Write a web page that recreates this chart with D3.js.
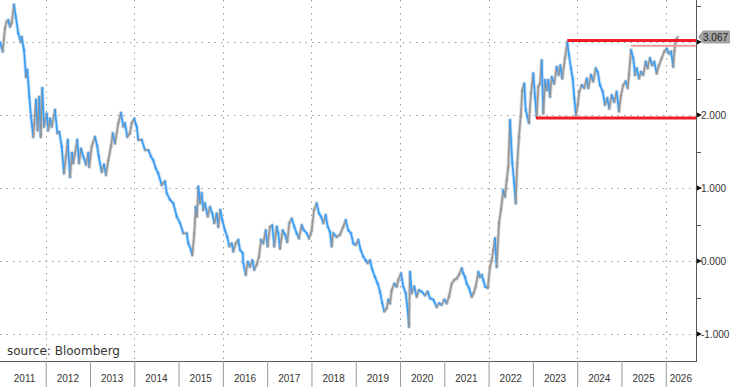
<!DOCTYPE html>
<html>
<head>
<meta charset="utf-8">
<script src="https://cdn.jsdelivr.net/npm/d3@7"></script>
<style>
  html, body { margin: 0; padding: 0; background: #fff; }
  svg { display: block; }
</style>
</head>
<body>
<svg id="chart" width="731" height="387"></svg>
<script>
// ---- data (decimal year, yield %) ----
const dates = [
  2010.968,2011.029,2011.081,2011.119,2011.156,2011.194,2011.232,2011.284,2011.323,2011.381,
  2011.436,2011.458,2011.510,2011.555,2011.585,2011.630,2011.668,2011.720,2011.743,2011.781,
  2011.819,2011.855,2011.887,2011.923,2011.962,2012.023,2012.059,2012.097,2012.135,2012.210,
  2012.262,2012.307,2012.361,2012.413,2012.458,2012.497,2012.549,2012.594,2012.623,2012.713,
  2012.752,2012.797,2012.849,2012.910,2012.962,2012.984,2013.039,2013.113,2013.165,2013.197,
  2013.264,2013.316,2013.361,2013.413,2013.474,2013.513,2013.565,2013.639,2013.700,2013.752,
  2013.790,2013.842,2013.903,2013.942,2014.000,2014.055,2014.091,2014.168,2014.242,2014.317,
  2014.378,2014.429,2014.484,2014.542,2014.619,2014.694,2014.732,2014.806,2014.881,2014.958,
  2015.032,2015.107,2015.184,2015.220,2015.281,2015.310,2015.355,2015.387,2015.416,2015.445,
  2015.484,2015.522,2015.558,2015.597,2015.658,2015.710,2015.762,2015.807,2015.861,2015.897,
  2015.942,2015.987,2016.048,2016.100,2016.145,2016.200,2016.236,2016.290,2016.349,2016.387,
  2016.448,2016.462,2016.516,2016.562,2016.613,2016.665,2016.710,2016.764,2016.816,2016.861,
  2016.913,2016.967,2017.012,2017.064,2017.116,2017.161,2017.216,2017.252,2017.290,2017.351,
  2017.403,2017.455,2017.500,2017.554,2017.613,2017.667,2017.719,2017.780,2017.832,2017.893,
  2017.945,2018.006,2018.058,2018.119,2018.171,2018.216,2018.268,2018.322,2018.367,2018.419,
  2018.457,2018.494,2018.570,2018.645,2018.719,2018.774,2018.832,2018.893,2018.945,2019.000,
  2019.058,2019.112,2019.171,2019.225,2019.270,2019.322,2019.374,2019.435,2019.496,2019.548,
  2019.600,2019.645,2019.699,2019.736,2019.774,2019.812,2019.871,2019.925,2019.961,2020.022,
  2020.074,2020.128,2020.173,2020.203,2020.225,2020.264,2020.322,2020.377,2020.429,2020.489,
  2020.564,2020.625,2020.677,2020.751,2020.828,2020.880,2020.941,2021.000,2021.054,2021.106,
  2021.167,2021.226,2021.280,2021.332,2021.393,2021.429,2021.468,2021.506,2021.558,2021.619,
  2021.664,2021.709,2021.768,2021.806,2021.844,2021.880,2021.919,2021.980,2022.032,2022.070,
  2022.106,2022.145,2022.183,2022.235,2022.280,2022.332,2022.371,2022.409,2022.445,2022.484,
  2022.506,2022.535,2022.580,2022.612,2022.648,2022.686,2022.725,2022.761,2022.806,2022.838,
  2022.874,2022.912,2022.957,2023.009,2023.048,2023.086,2023.123,2023.161,2023.199,2023.235,
  2023.274,2023.312,2023.348,2023.386,2023.425,2023.483,2023.537,2023.583,2023.619,2023.664,
  2023.725,2023.777,2023.815,2023.860,2023.899,2023.935,2023.973,2024.012,2024.048,2024.102,
  2024.161,2024.215,2024.251,2024.312,2024.364,2024.419,2024.463,2024.515,2024.576,2024.628,
  2024.680,2024.725,2024.779,2024.838,2024.892,2024.944,2024.990,2025.041,2025.095,2025.141,
  2025.170,2025.215,2025.267,2025.306,2025.344,2025.396,2025.441,2025.493,2025.547,2025.592,
  2025.644,2025.696,2025.741,2025.796,2025.848,2025.909,2025.967,2026.021,2026.073,2026.119,
  2026.171,2026.194,2026.225,2026.271
];
const yields = [
  3.00,2.87,3.19,3.28,3.30,3.21,3.26,3.51,3.35,3.12,
  3.00,3.07,2.89,2.52,2.62,2.25,1.98,1.70,1.89,2.21,
  1.79,2.25,1.70,2.37,1.84,2.02,1.79,1.95,1.84,2.07,
  1.75,1.77,1.57,1.20,1.43,1.66,1.15,1.48,1.34,1.66,
  1.34,1.54,1.43,1.32,1.48,1.29,1.57,1.70,1.57,1.43,
  1.22,1.32,1.18,1.38,1.57,1.75,1.61,1.89,2.03,1.84,
  1.89,1.70,1.75,1.89,1.95,1.84,1.66,1.66,1.52,1.52,
  1.43,1.38,1.27,1.20,1.04,1.09,0.93,0.84,0.79,0.61,
  0.52,0.38,0.38,0.24,0.15,0.08,0.38,0.74,0.61,1.02,
  0.79,0.93,0.70,0.79,0.61,0.74,0.65,0.52,0.65,0.47,
  0.70,0.56,0.42,0.33,0.20,0.24,0.13,0.24,0.29,0.15,
  0.11,-0.03,-0.19,-0.01,-0.08,0.01,-0.12,-0.05,0.06,0.29,
  0.24,0.42,0.20,0.47,0.49,0.20,0.47,0.38,0.17,0.42,
  0.36,0.26,0.52,0.58,0.47,0.38,0.31,0.49,0.42,0.38,
  0.31,0.42,0.70,0.79,0.65,0.61,0.52,0.63,0.47,0.40,
  0.20,0.38,0.33,0.36,0.47,0.56,0.42,0.38,0.24,0.22,
  0.29,0.15,0.06,0.01,-0.03,0.01,-0.12,-0.22,-0.31,-0.42,
  -0.58,-0.69,-0.65,-0.53,-0.58,-0.40,-0.31,-0.35,-0.26,-0.17,
  -0.35,-0.44,-0.67,-0.90,-0.15,-0.44,-0.35,-0.49,-0.40,-0.42,
  -0.47,-0.42,-0.51,-0.53,-0.63,-0.58,-0.60,-0.53,-0.58,-0.49,
  -0.31,-0.26,-0.24,-0.19,-0.10,-0.17,-0.22,-0.31,-0.37,-0.49,
  -0.44,-0.35,-0.15,-0.22,-0.19,-0.26,-0.35,-0.37,-0.08,0.01,
  0.15,0.31,-0.08,0.52,0.70,0.97,0.88,1.11,1.29,1.93,
  1.66,1.34,1.06,0.79,1.34,1.70,1.98,2.34,2.43,2.07,
  1.98,1.89,2.30,2.57,2.25,1.97,2.39,2.43,2.75,2.02,
  2.48,2.34,2.48,2.25,2.52,2.43,2.66,2.55,2.68,2.50,
  2.78,3.00,2.82,2.64,2.50,2.23,2.00,2.14,2.32,2.41,
  2.37,2.50,2.37,2.55,2.46,2.64,2.59,2.41,2.32,2.14,
  2.23,2.09,2.27,2.18,2.32,2.05,2.27,2.41,2.46,2.37,
  2.55,2.89,2.78,2.55,2.64,2.50,2.59,2.55,2.73,2.64,
  2.78,2.68,2.73,2.57,2.68,2.78,2.87,2.91,2.84,2.87,
  2.66,2.87,3.03,3.067
];
const yearLabels = ["2011","2012","2013","2014","2015","2016","2017","2018",
                    "2019","2020","2021","2022","2023","2024","2025","2026"];
const gridYears = [2012, 2014, 2016, 2018, 2020, 2022, 2024, 2026];
const majorTicks = [-1, 0, 1, 2, 3];
const labelledTicks = [-1, 0, 1, 2];   // the 3.000 label sits under the last-value tag
const minorTicks = [-0.5, 0.5, 1.5, 2.5, 3.5];
// horizontal reference levels: value, start date
const refLevels = [3.02, 2.95, 1.96];
const refStarts = [2023.777, 2025.215, 2023.070];
const lastValue = 3.067;
const sourceText = "source: Bloomberg";

// ---- layout ----
const W = 731, H = 387;
const plotLeft = 0, plotRight = 696, plotTop = 0, plotBottom = 361;
const svg = d3.select("#chart");

const x = d3.scaleLinear().domain([2010.968, 2026.683]).range([plotLeft, plotRight]);
const y = d3.scaleLinear().domain([-1, 3]).range([334, 42]);

const fmt = v => d3.format(".3f")(v).replace("\u2212", "-");

// gridlines
const grid = svg.append("g");
grid.selectAll("line.hg").data(majorTicks).join("line")
  .attr("x1", plotLeft).attr("x2", plotRight)
  .attr("y1", d => Math.round(y(d)) + 0.5).attr("y2", d => Math.round(y(d)) + 0.5)
  .attr("stroke", "#9a9a9a").attr("stroke-width", 1).attr("stroke-dasharray", "1.5,5");
grid.selectAll("line.vg").data(gridYears).join("line")
  .attr("x1", d => Math.round(x(d)) + 0.5).attr("x2", d => Math.round(x(d)) + 0.5)
  .attr("y1", plotTop).attr("y2", plotBottom)
  .attr("stroke", "#9a9a9a").attr("stroke-width", 1).attr("stroke-dasharray", "1.5,5");

// data line, segments coloured by direction (up = grey, down = blue)
const pts = dates.map((d, i) => ({ d, v: yields[i] }));
const segs = d3.pairs(pts);
const lineG = svg.append("g").attr("stroke-linecap", "round");
lineG.selectAll("line.halo").data(segs).join("line")
  .attr("x1", s => x(s[0].d)).attr("y1", s => y(s[0].v))
  .attr("x2", s => x(s[1].d)).attr("y2", s => y(s[1].v))
  .attr("stroke", s => s[1].v >= s[0].v ? "#b5b5b5" : "#8cc4f5")
  .attr("stroke-width", 3.6).attr("stroke-opacity", 0.5);
lineG.selectAll("line.main").data(segs).join("line")
  .attr("x1", s => x(s[0].d)).attr("y1", s => y(s[0].v))
  .attr("x2", s => x(s[1].d)).attr("y2", s => y(s[1].v))
  .attr("stroke", s => s[1].v >= s[0].v ? "#979797" : "#3c9cf2")
  .attr("stroke-width", 1.7);

// reference levels
const refStyle = [
  { c: "#ee1c25", w: 3 },
  { c: "#f29a9a", w: 2 },
  { c: "#ee1c25", w: 3 }
];
svg.append("g").selectAll("line").data(refLevels).join("line")
  .attr("x1", (d, i) => x(refStarts[i])).attr("x2", plotRight)
  .attr("y1", d => y(d)).attr("y2", d => y(d))
  .attr("stroke", (d, i) => refStyle[i].c)
  .attr("stroke-width", (d, i) => refStyle[i].w);

// right axis
const yAxis = d3.axisRight(y).tickValues(labelledTicks).tickSize(0).tickPadding(5).tickFormat(fmt);
const ya = svg.append("g").attr("transform", `translate(${plotRight},0)`).call(yAxis);
ya.select(".domain").remove();
ya.selectAll("text").attr("font-family", "'Liberation Sans', Arial, sans-serif")
  .attr("font-size", "10px").attr("fill", "#333");
svg.append("line").attr("x1", plotRight + 0.5).attr("x2", plotRight + 0.5)
  .attr("y1", plotTop).attr("y2", plotBottom).attr("stroke", "#555").attr("stroke-width", 1);
svg.append("g").selectAll("path").data(majorTicks).join("path")
  .attr("d", d => { const yy = y(d); return `M${plotRight + 1},${yy - 2.5}L${plotRight + 6},${yy}L${plotRight + 1},${yy + 2.5}Z`; })
  .attr("fill", "#111");
svg.append("g").selectAll("line").data(minorTicks).join("line")
  .attr("x1", plotRight).attr("x2", plotRight + 5)
  .attr("y1", d => Math.round(y(d)) + 0.5).attr("y2", d => Math.round(y(d)) + 0.5)
  .attr("stroke", "#555");

// last value tag
const ly = y(lastValue);
svg.append("path")
  .attr("d", `M${plotRight + 2},${ly}L${plotRight + 7},${ly - 6.5}L${W - 1},${ly - 6.5}L${W - 1},${ly + 6.5}L${plotRight + 7},${ly + 6.5}Z`)
  .attr("fill", "#a3a3a3");
svg.append("text").attr("x", plotRight + 7).attr("y", ly + 4)
  .attr("font-family", "'Liberation Sans', Arial, sans-serif").attr("font-size", "10px")
  .attr("fill", "#222").text(lastValue.toFixed(3));

// bottom axis
svg.append("line").attr("x1", plotLeft).attr("x2", plotRight + 1)
  .attr("y1", plotBottom + 0.5).attr("y2", plotBottom + 0.5).attr("stroke", "#555");
const yearStarts = yearLabels.map(t => +t);
const xAxis = d3.axisBottom(x).tickValues(yearStarts.filter(v => v > 2011)).tickSize(H - plotBottom).tickFormat("");
const xa = svg.append("g").attr("transform", `translate(0,${plotBottom})`).call(xAxis);
xa.select(".domain").remove();
xa.selectAll("line").attr("stroke", "#999");
svg.append("g").selectAll("text").data(yearLabels).join("text")
  .attr("x", t => (x(+t) + Math.min(x(+t + 1), plotRight)) / 2 + (t === "2011" ? 1 : 0))
  .attr("y", 382)
  .attr("text-anchor", "middle")
  .attr("font-family", "'Liberation Sans', Arial, sans-serif").attr("font-size", "10px")
  .attr("fill", "#333").text(t => t);

// source
svg.append("text").attr("x", 7).attr("y", 355)
  .attr("font-family", "'DejaVu Sans', sans-serif").attr("font-size", "12px")
  .attr("fill", "#333").text(sourceText);
</script>
</body>
</html>
